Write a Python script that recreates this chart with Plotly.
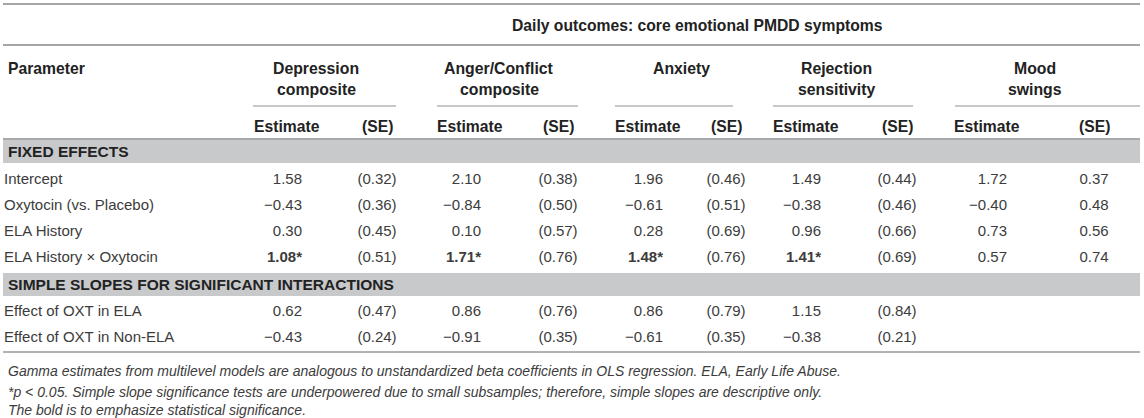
import plotly.graph_objects as go

# ---- data ----
outcomes_l1 = ["Depression", "Anger/Conflict", "Anxiety", "Rejection", "Mood"]
outcomes_l2 = ["composite", "composite", "", "sensitivity", "swings"]

fixed_rows = ["Intercept", "Oxytocin (vs. Placebo)", "ELA History", "ELA History \u00d7 Oxytocin"]
slope_rows = ["Effect of OXT in ELA", "Effect of OXT in Non-ELA"]

# estimates per outcome, fixed effects rows then simple slope rows (None = blank)
est = {
    "Depression": [1.58, -0.43, 0.30, 1.08, 0.62, -0.43],
    "Anger": [2.10, -0.84, 0.10, 1.71, 0.86, -0.91],
    "Anxiety": [1.96, -0.61, 0.28, 1.48, 0.86, -0.61],
    "Rejection": [1.49, -0.38, 0.96, 1.41, 1.15, -0.38],
    "Mood": [1.72, -0.40, 0.73, 0.57, None, None],
}
se = {
    "Depression": [0.32, 0.36, 0.45, 0.51, 0.47, 0.24],
    "Anger": [0.38, 0.50, 0.57, 0.76, 0.76, 0.35],
    "Anxiety": [0.46, 0.51, 0.69, 0.76, 0.79, 0.35],
    "Rejection": [0.44, 0.46, 0.66, 0.69, 0.84, 0.21],
    "Mood": [0.37, 0.48, 0.56, 0.74, None, None],
}
sig = {
    "Depression": [False, False, False, True, False, False],
    "Anger": [False, False, False, True, False, False],
    "Anxiety": [False, False, False, True, False, False],
    "Rejection": [False, False, False, True, False, False],
    "Mood": [False, False, False, False, False, False],
}
se_parens = [True, True, True, True, False]

footnotes = [
    "Gamma estimates from multilevel models are analogous to unstandardized beta coefficients in OLS regression. ELA, Early Life Abuse.",
    "*p < 0.05. Simple slope significance tests are underpowered due to small subsamples; therefore, simple slopes are descriptive only.",
    "The bold is to emphasize statistical significance.",
]

# ---- layout positions (pixels) ----
W, H = 1144, 418
keys = list(est.keys())
head_x = [316, 499, 681, 836, 1035]
est_head_x = [287, 470, 648, 806, 987]
est_right = [302, 481, 663, 821, 1007]
se_x = [377, 558, 726, 897, 1094]
underline = [(253, 396), (437, 578), (615, 733), (773, 913), (955, 1140)]
row_y = [180, 206, 232, 258, 312, 338]
band_y = [(140, 163), (273, 296)]
band_labels = ["FIXED EFFECTS", "SIMPLE SLOPES FOR SIGNIFICANT INTERACTIONS"]
foot_y = [371, 392, 410]

FONT = "Liberation Sans, Arial, Helvetica, sans-serif"
TXT = "#3c3c3c"
BOLD = "#222222"


def fmt(v):
    return f"{v:.2f}".replace("-", "\u2212")


fig = go.Figure()

labels = fixed_rows + slope_rows
fig.add_trace(go.Scatter(
    x=[4] * len(labels), y=row_y, mode="text", text=labels,
    textposition="middle right", textfont=dict(family=FONT, size=15, color=TXT),
    hoverinfo="skip", showlegend=False,
))

for j, k in enumerate(keys):
    et, st, yy, sy = [], [], [], []
    for i, v in enumerate(est[k]):
        if v is None:
            continue
        t = fmt(v)
        if sig[k][i]:
            t = f"<b>{t}*</b>"
        et.append(t)
        yy.append(row_y[i])
    for i, v in enumerate(se[k]):
        if v is None:
            continue
        st.append(f"({v:.2f})" if se_parens[j] else f"{v:.2f}")
        sy.append(row_y[i])
    fig.add_trace(go.Scatter(
        x=[est_right[j]] * len(et), y=yy, mode="text", text=et,
        textposition="middle left", textfont=dict(family=FONT, size=15, color=TXT),
        hoverinfo="skip", showlegend=False,
    ))
    fig.add_trace(go.Scatter(
        x=[se_x[j]] * len(st), y=sy, mode="text", text=st,
        textposition="middle center", textfont=dict(family=FONT, size=15, color=TXT),
        hoverinfo="skip", showlegend=False,
    ))

shapes = []
ann = []


def hline(x0, x1, y, color, w):
    shapes.append(dict(type="line", xref="x", yref="y", x0=x0, x1=x1, y0=y, y1=y,
                       line=dict(color=color, width=w), layer="below"))


hline(3, 1140, 4, "#a6a6a6", 2)
hline(3, 1140, 45, "#a6a6a6", 2)
for a, b in underline:
    hline(a, b, 106, "#b4b4b4", 1.5)
hline(3, 1140, 139, "#8c8c8c", 1.5)
for (y0, y1) in band_y:
    shapes.append(dict(type="rect", xref="x", yref="y", x0=3, x1=1140, y0=y0, y1=y1,
                       fillcolor="#c8c9cb", line=dict(width=0), layer="below"))
hline(3, 1140, 352, "#999999", 1.5)


def text(x, y, s, anchor="center", bold=False, italic=False, size=15, color=TXT):
    if bold:
        s = f"<b>{s}</b>"
    if italic:
        s = f"<i>{s}</i>"
    ann.append(dict(x=x, y=y, xref="x", yref="y", text=s, showarrow=False,
                    xanchor=anchor, yanchor="middle",
                    font=dict(family=FONT, size=size, color=color)))


text(697, 25, "Daily outcomes: core emotional PMDD symptoms", bold=True, size=15.7, color=BOLD)
text(6, 68, "Parameter", anchor="left", bold=True, size=15.7, color=BOLD)
for j in range(len(keys)):
    text(head_x[j], 68, outcomes_l1[j], bold=True, size=15.8, color=BOLD)
    if outcomes_l2[j]:
        text(head_x[j], 89, outcomes_l2[j], bold=True, size=15.8, color=BOLD)
    text(est_head_x[j], 126, "Estimate", bold=True, size=15.7, color=BOLD)
    text(se_x[j], 126, "(SE)", bold=True, size=15.7, color=BOLD)
for (y0, y1), lab in zip(band_y, band_labels):
    text(6, (y0 + y1) / 2, lab, anchor="left", bold=True, size=15.5, color=BOLD)
for y, s in zip(foot_y, footnotes):
    text(6, y, s, anchor="left", italic=True, size=14, color=TXT)

fig.update_layout(
    width=W, height=H, margin=dict(l=0, r=0, t=0, b=0),
    paper_bgcolor="white", plot_bgcolor="white",
    xaxis=dict(range=[0, W], visible=False, fixedrange=True),
    yaxis=dict(range=[H, 0], visible=False, fixedrange=True),
    shapes=shapes, annotations=ann,
)

# the default page puts an 8px margin round the body; drop it so the table sits at 0,0
fig.write_html("out.html", config={"displayModeBar": False},
               post_script="document.body.style.margin='0px';")
